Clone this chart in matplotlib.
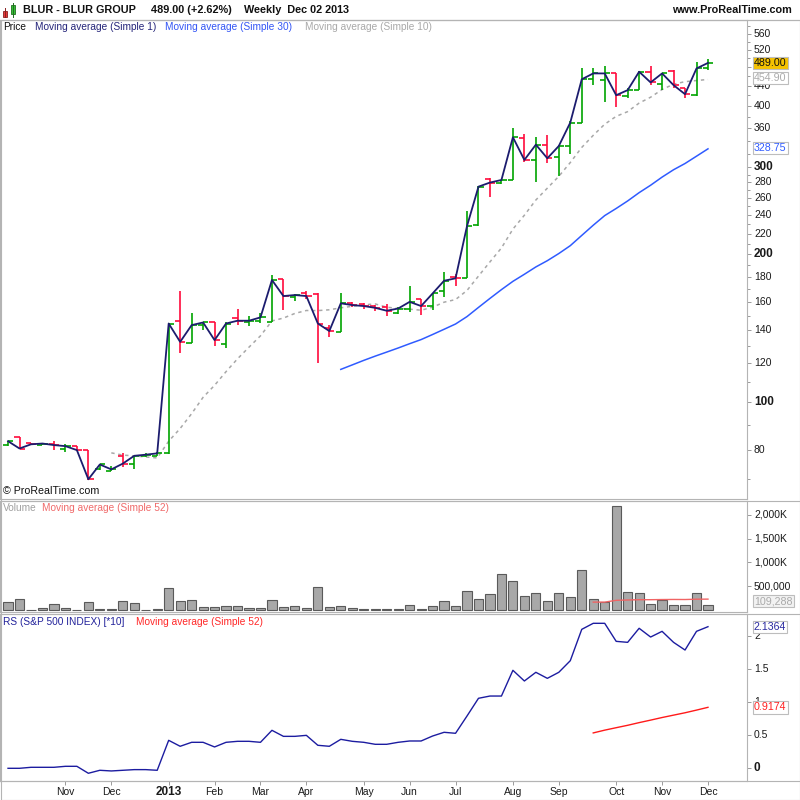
import numpy as np
import pandas as pd
import matplotlib
matplotlib.use('Agg')
import matplotlib.pyplot as plt
from matplotlib.patches import Rectangle
from matplotlib.lines import Line2D
from matplotlib.ticker import FixedLocator, NullFormatter

plt.rcParams['font.family'] = ['Liberation Sans', 'DejaVu Sans']

    ## data (weekly bars)
weeks = pd.date_range('2012-10-01', '2013-12-02', freq='W-MON')

opens = [81.9, 84.9, 82.6, 82.0, 82.5, 80.4, 81.4, 80.0, 73.2, 72.6, 77.8, 75.1, 77.8, 78.0,
         78.8, 146.0, 132.3, 143.5, 145.3, 131.6, 148.5, 145.5, 146.0, 145.9, 177.9, 163.5,
         167.0, 166.0, 141.5, 139.2, 159.5, 158.2, 157.0, 156.5, 152.0, 154.5, 161.9, 157.0,
         168.5, 180.0, 178.6, 228.8, 283.7, 279.0, 282.9, 343.8, 310.0, 333.7, 314.6, 331.5,
         370.0, 453.0, 451.0, 465.6, 418.0, 430.0, 468.0, 443.5, 471.4, 435.0, 420.5, 476.6]
highs = [83.6, 85.0, 82.8, 82.7, 83.4, 82.2, 81.6, 80.2, 75.1, 74.3, 79.1, 77.9, 78.8, 79.4,
         145.0, 168.6, 151.6, 145.8, 145.5, 145.8, 154.7, 149.5, 152.0, 181.4, 178.0, 166.0,
         168.0, 166.4, 143.5, 166.4, 160.2, 159.5, 158.0, 158.3, 156.0, 172.6, 161.9, 166.5,
         184.2, 182.2, 245.0, 274.5, 285.9, 283.5, 360.3, 350.3, 345.4, 348.3, 333.1, 372.0,
         476.8, 476.8, 482.0, 465.6, 434.4, 471.4, 482.0, 465.6, 472.4, 435.0, 491.8, 497.3]
lows = [81.7, 80.4, 81.9, 81.9, 80.0, 79.4, 79.6, 69.6, 73.0, 72.4, 73.9, 73.4, 77.4, 77.8,
        78.5, 126.1, 132.3, 140.0, 130.0, 128.8, 143.5, 142.9, 145.1, 145.9, 154.0, 161.0,
        162.0, 120.0, 135.5, 139.0, 156.0, 155.0, 153.5, 150.0, 151.0, 152.8, 150.8, 154.0,
        163.9, 172.0, 178.6, 228.0, 261.4, 278.0, 282.9, 308.3, 280.6, 306.9, 288.4, 320.0,
        370.0, 440.1, 408.3, 398.6, 415.0, 430.0, 440.8, 430.0, 435.1, 415.1, 418.0, 472.4]
closes = [83.4, 80.6, 82.2, 82.5, 81.9, 81.5, 80.0, 69.8, 74.8, 73.1, 75.1, 77.9, 78.3, 78.8,
          144.6, 132.7, 143.5, 145.3, 133.8, 144.6, 146.5, 146.5, 148.8, 177.2, 164.4, 165.2,
          164.4, 144.6, 139.6, 158.9, 157.6, 156.9, 155.6, 153.5, 155.1, 160.0, 156.9, 166.4,
          176.6, 178.6, 228.1, 274.2, 279.5, 282.9, 345.4, 310.7, 333.7, 313.1, 331.6, 370.0,
          453.0, 465.6, 465.6, 420.5, 430.6, 469.3, 446.4, 465.6, 440.8, 422.5, 476.5, 489.0]

# volume in thousands of shares
volume_k = [162, 225, 3, 35, 119, 35, 3, 162, 14, 14, 182, 140, 3, 14, 456, 182, 203, 56, 56,
            77, 77, 35, 35, 203, 56, 77, 35, 477, 56, 77, 35, 14, 14, 14, 14, 105, 21, 77, 182,
            77, 393, 225, 337, 751, 604, 288, 351, 182, 351, 267, 835, 225, 161, 2183, 372, 351,
            119, 204, 98, 98, 351, 109.288]

# relative strength vs S&P 500 (*10)
rs = [0.0, 0.0, 0.015, 0.015, 0.015, 0.03, 0.03, -0.075, -0.03, -0.04, -0.03, -0.02, -0.02,
      -0.03, 0.422, 0.332, 0.392, 0.392, 0.322, 0.392, 0.407, 0.407, 0.392, 0.573, 0.482,
      0.482, 0.497, 0.347, 0.332, 0.437, 0.407, 0.392, 0.362, 0.362, 0.392, 0.412, 0.412,
      0.487, 0.543, 0.528, 0.789, 1.056, 1.090, 1.090, 1.478, 1.317, 1.448, 1.357, 1.448,
      1.623, 2.096, 2.187, 2.187, 1.915, 1.900, 2.112, 1.980, 2.066, 1.900, 1.784, 2.066, 2.136]

price_ticks = [80, 100, 120, 140, 160, 180, 200, 220, 240, 260, 280, 300, 360, 400, 440, 480, 520, 560]
# 480 sits fully behind the last-price box on the original, so no label for it
price_labels = ['80', '100', '120', '140', '160', '180', '200', '220', '240', '260', '280', '300',
                '360', '400', '440', '', '520', '560']
price_minor = [70, 90, 110, 130, 150, 170, 190, 210, 230, 250, 270, 290, 320, 340, 380, 420,
               460, 500, 540, 580]
vol_ticks = [500000, 1000000, 1500000, 2000000]
vol_labels = ['500,000', '1,000K', '1,500K', '2,000K']
rs_ticks = [0, 0.5, 1, 1.5, 2]
rs_labels = ['0', '0.5', '1', '1.5', '2']
month_labels = ['Nov', 'Dec', '2013', 'Feb', 'Mar', 'Apr', 'May', 'Jun', 'Jul', 'Aug', 'Sep',
                'Oct', 'Nov', 'Dec']

    ## derived series
x = np.arange(len(weeks))
volume = np.array(volume_k) * 1000
close_s = pd.Series(closes)
ma10 = close_s.rolling(10).mean()
ma30 = close_s.rolling(30).mean()
vol_ma52 = pd.Series(volume).rolling(52).mean()
rs_ma52 = pd.Series(rs).rolling(52).mean()
month_pos = [i for i in range(1, len(weeks)) if weeks[i].month != weeks[i - 1].month]

GREEN = '#00A400'
RED = '#FF0A3C'
FRAME = '#B4B4B4'
W = H = 800
PLOT_R = 746.7


def fig_box(top, bottom):
    return [0.0, 1 - bottom / H, PLOT_R / W, (bottom - top) / H]


def style(ax, ticks, minor=()):
    for sp in ax.spines.values():
        sp.set_color(FRAME)
        sp.set_linewidth(0.8)
    ax.set_xlim(-0.70, (PLOT_R - 8) / 11.475)
    ax.yaxis.set_major_locator(FixedLocator(ticks))
    ax.yaxis.set_minor_locator(FixedLocator(list(minor)))
    ax.yaxis.set_major_formatter(NullFormatter())
    ax.yaxis.set_minor_formatter(NullFormatter())
    ax.yaxis.tick_right()
    ax.tick_params(axis='x', which='both', bottom=False, labelbottom=False)
    ax.tick_params(axis='y', which='both', direction='out', color='#9A9A9A', width=0.7,
                   length=3, labelright=False)
    ax.tick_params(axis='y', which='minor', length=2)


def right_labels(ax, values, labels, bold=()):
    for v, lab in zip(values, labels):
        if not lab:
            continue
        b = lab in bold
        ax.text(754 / PLOT_R, v, lab, transform=ax.get_yaxis_transform(), ha='left',
                va='center', fontsize=8.5 if b else 7.5, fontweight='bold' if b else 'normal',
                color='#1A1A1A', clip_on=False)


def value_box(ax, v, s, fg, bg, ec='#BDBDBD'):
    ax.text(754 / PLOT_R, v, s, transform=ax.get_yaxis_transform(), ha='left', va='center',
            fontsize=7.7, color=fg, clip_on=False, zorder=10,
            bbox=dict(boxstyle='square,pad=0.1', fc=bg, ec=ec, lw=0.8))


def ftext(px, py, s, **kw):
    kw.setdefault('va', 'center')
    kw.setdefault('fontsize', 7.3)
    fig.text(px / W, 1 - py / H, s, **kw)


fig = plt.figure(figsize=(8, 8), dpi=100)
fig.patch.set_facecolor('white')

ax_p = fig.add_axes(fig_box(19.5, 498.5))
ax_v = fig.add_axes(fig_box(500.5, 611.5))
ax_r = fig.add_axes(fig_box(613.5, 780.5))

    ## price panel
colors = np.where(np.array(closes) >= np.array(opens), GREEN, RED)
ax_p.plot(x, ma10, color='#A8A8A8', lw=1.1, ls=(0, (2.2, 2.4)), zorder=2)
ax_p.vlines(x, lows, highs, colors=colors, lw=1.2, zorder=3)
ax_p.hlines(opens, x - 0.45, x, colors=colors, lw=1.2, zorder=3)
ax_p.hlines(closes, x, x + 0.45, colors=colors, lw=1.2, zorder=3)
ax_p.plot(x, ma30, color='#2F5BFF', lw=1.1, zorder=3)
ax_p.plot(x, closes, color='#1C1C6E', lw=1.3, zorder=4)
ax_p.set_yscale('log')
ax_p.set_ylim(63.8, 599.1)
style(ax_p, price_ticks, price_minor)
right_labels(ax_p, price_ticks, price_labels, bold=('100', '200', '300'))
value_box(ax_p, 489.0, '489.00', '#111111', '#F5C200')
value_box(ax_p, 454.9, '454.90', '#ABABAB', 'white')
value_box(ax_p, 328.75, '328.75', '#2F5BFF', 'white')

    ## volume panel
ax_v.bar(x, volume, width=0.8, color='#A8A8A8', edgecolor='#5A5A5A', lw=0.8, zorder=2)
ax_v.plot(x, vol_ma52, color='#F06464', lw=1.0, zorder=3)
ax_v.set_ylim(-31600, 2305000)
style(ax_v, vol_ticks)
right_labels(ax_v, vol_ticks, vol_labels)
value_box(ax_v, 185000, '109,288', '#AAAAAA', '#F2F2F2')

    ## RS panel
ax_r.plot(x, rs, color='#1C1CA0', lw=1.0, zorder=3)
ax_r.plot(x, rs_ma52, color='#FF1A1A', lw=1.0, zorder=3)
ax_r.set_ylim(-0.184, 2.335)
style(ax_r, rs_ticks)
right_labels(ax_r, rs_ticks, rs_labels, bold=('0',))
value_box(ax_r, 2.1364, '2.1364', '#2A2AA0', 'white')
value_box(ax_r, 0.9174, '0.9174', '#FF2020', 'white')

ax_r.set_xticks(month_pos)
ax_r.tick_params(axis='x', which='major', bottom=True, direction='out', length=3,
                 color='#9A9A9A', width=0.7, labelbottom=False)
for pos, lab in zip(month_pos, month_labels):
    bold = lab == '2013'
    ax_r.text(pos, -0.066, lab, transform=ax_r.get_xaxis_transform(), ha='center',
              va='center', fontsize=8.5 if bold else 7.5,
              fontweight='bold' if bold else 'normal', color='#1A1A1A', clip_on=False)

    ## frames
fig.add_artist(Rectangle((0.5 / W, 1 - 799.5 / H), 799 / W, 780 / H, fill=False,
                         ec=FRAME, lw=0.8, transform=fig.transFigure))
for yy in (19.5, 500.5, 613.5, 780.5):
    fig.add_artist(Line2D([0, 1], [1 - yy / H, 1 - yy / H], color=FRAME, lw=0.8,
                          transform=fig.transFigure))

    ## header
fig.add_artist(Line2D([5.3 / W, 5.3 / W], [1 - 17.3 / H, 1 - 8 / H], color='#882020',
                      lw=0.7, transform=fig.transFigure))
fig.add_artist(Rectangle((3.3 / W, 1 - 16.7 / H), 4 / W, 6 / H, fc='#E83838', ec='#882020',
                         lw=0.6, transform=fig.transFigure))
fig.add_artist(Line2D([13 / W, 13 / W], [1 - 16.5 / H, 1 - 2.5 / H], color='#206E20',
                      lw=0.7, transform=fig.transFigure))
fig.add_artist(Rectangle((10.7 / W, 1 - 14 / H), 4.6 / W, 9 / H, fc='#34C234', ec='#206E20',
                         lw=0.6, transform=fig.transFigure))
ftext(23, 10, 'BLUR - BLUR GROUP', fontsize=7.8, fontweight='bold', color='#111111')
ftext(151, 10, '489.00 (+2.62%)', fontsize=7.8, fontweight='bold', color='#111111')
ftext(244, 10, 'Weekly  Dec 02 2013', fontsize=7.8, fontweight='bold', color='#111111')
ftext(792, 10, 'www.ProRealTime.com', fontsize=7.8, fontweight='bold', color='#111111',
      ha='right')

# panel titles
ftext(3, 27, 'Price', color='#111111')
ftext(35, 27, 'Moving average (Simple 1)', color='#25257A')
ftext(165, 27, 'Moving average (Simple 30)', color='#3355F5')
ftext(305, 27, 'Moving average (Simple 10)', color='#A9A9A9')
ftext(3, 491, '\u00a9 ProRealTime.com', fontsize=7.7, color='#111111')
ftext(3, 508, 'Volume', color='#A0A0A0')
ftext(42, 508, 'Moving average (Simple 52)', color='#F06A6A')
ftext(3, 622, 'RS (S&P 500 INDEX) [*10]', color='#23239B')
ftext(136, 622, 'Moving average (Simple 52)', color='#FF2828')

plt.savefig('out.png', dpi=100)
